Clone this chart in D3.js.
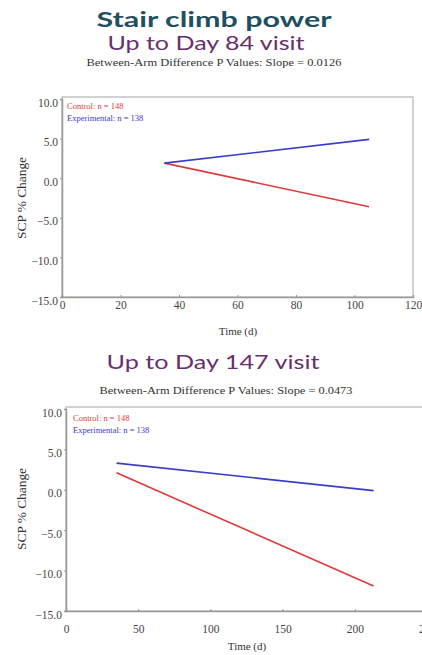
<!DOCTYPE html>
<html>
<head>
<meta charset="utf-8">
<script src="https://cdn.jsdelivr.net/npm/d3@7"></script>
<style>
  body { margin: 0; background: #fff; }
  svg { display: block; }
</style>
</head>
<body>
<svg></svg>
<script>
// chart values
const mainTitle = "Stair climb power";
const panelTitles = ["Up to Day 84 visit", "Up to Day 147 visit"];
const pValues = ["0.0126", "0.0473"];
const armNames = ["Control", "Experimental"];
const armN = [148, 138];
const yTicks = [10, 5, 0, -5, -10, -15];
const xTicksTop = [0, 20, 40, 60, 80, 100, 120];
const xTicksBottom = [0, 50, 100, 150, 200, 250];
const controlTop = [{ t: 35, v: 1.9 }, { t: 105, v: -3.6 }];
const experimentalTop = [{ t: 35, v: 1.9 }, { t: 105, v: 4.9 }];
const controlBottom = [{ t: 35, v: 2.1 }, { t: 213, v: -11.9 }];
const experimentalBottom = [{ t: 35, v: 3.3 }, { t: 213, v: -0.1 }];

const width = 422, height = 655;
const colors = { Control: "#e0393c", Experimental: "#3b3bcc" };

const svg = d3.select("svg").attr("width", width).attr("height", height);

svg.append("text")
  .attr("x", 214).attr("y", 27)
  .attr("text-anchor", "middle")
  .attr("textLength", 235).attr("lengthAdjust", "spacingAndGlyphs")
  .style("font", "bold 21px Lato, 'Open Sans', sans-serif")
  .style("fill", "#1f4f60")
  .text(mainTitle);

// layout of each panel (pixel boxes)
const panels = [
  {
    title: panelTitles[0], p: pValues[0], xTicks: xTicksTop, xMax: 120,
    control: controlTop, experimental: experimentalTop,
    left: 62, right: 413, top: 97, y10: 99, bottom: 297,
    titleX: 206, titleY: 50, titleW: 197, subX: 214, subY: 66, subW: 255,
    legX: 67, legY: 109, labOff: 10, timeX: 238, timeY: 335, yTitleY: 198
  },
  {
    title: panelTitles[1], p: pValues[1], xTicks: xTicksBottom, xMax: 250,
    control: controlBottom, experimental: experimentalBottom,
    left: 66, right: 427, top: 407, y10: 409, bottom: 611,
    titleX: 213, titleY: 369, titleW: 213, subX: 226, subY: 394, subW: 253,
    legX: 73, legY: 421, labOff: 20, timeX: 247, timeY: 650, yTitleY: 509
  }
];

panels.forEach(function (P) {
  const x = d3.scaleLinear().domain([0, P.xMax]).range([P.left, P.right]);
  const y = d3.scaleLinear().domain([-15, 10]).range([P.bottom, P.y10]);

  svg.append("text")
    .attr("x", P.titleX).attr("y", P.titleY)
    .attr("text-anchor", "middle")
    .attr("textLength", P.titleW).attr("lengthAdjust", "spacingAndGlyphs")
    .style("font", "19px Lato, 'Open Sans', sans-serif")
    .style("fill", "#6a2f6e")
    .text(P.title);

  svg.append("text")
    .attr("x", P.subX).attr("y", P.subY)
    .attr("text-anchor", "middle")
    .attr("textLength", P.subW).attr("lengthAdjust", "spacingAndGlyphs")
    .style("font-family", "'Liberation Serif', serif")
    .style("font-size", "9.5px")
    .style("fill", "#333")
    .text("Between-Arm Difference P Values: Slope = " + P.p);

  // frame
  svg.append("rect")
    .attr("x", P.left).attr("y", P.top)
    .attr("width", P.right - P.left).attr("height", P.bottom - P.top)
    .attr("fill", "none").attr("stroke", "#c4c4c4").attr("stroke-width", 1.5);

  const yAxis = svg.append("g")
    .attr("transform", `translate(${P.left},0)`)
    .call(d3.axisLeft(y).tickValues(yTicks).tickFormat(d3.format(".1f")).tickSize(2).tickPadding(2));
  yAxis.select(".domain").attr("stroke", "#999").attr("stroke-width", 1.5);
  yAxis.selectAll(".tick line").attr("stroke", "#999");
  yAxis.selectAll(".tick text")
    .attr("dy", "0.62em")
    .style("font-family", "'Liberation Serif', serif").style("font-size", "11.5px")
    .style("fill", "#444");

  const xAxis = svg.append("g")
    .attr("transform", `translate(0,${P.bottom})`)
    .call(d3.axisBottom(x).tickValues(P.xTicks).tickSize(-2).tickPadding(P.labOff - 6));
  xAxis.select(".domain").attr("stroke", "#999").attr("stroke-width", 1.5);
  xAxis.selectAll(".tick line").attr("stroke", "#999");
  xAxis.selectAll(".tick text")
    .style("font-family", "'Liberation Serif', serif").style("font-size", "11.5px")
    .style("fill", "#444");

  svg.append("text")
    .attr("x", P.timeX).attr("y", P.timeY)
    .attr("text-anchor", "middle")
    .style("font-family", "'Liberation Serif', serif").style("font-size", "11px")
    .style("fill", "#333")
    .text("Time (d)");

  svg.append("text")
    .attr("transform", `translate(26,${P.yTitleY}) rotate(-90)`)
    .attr("text-anchor", "middle")
    .attr("textLength", 82).attr("lengthAdjust", "spacingAndGlyphs")
    .style("font-family", "'Liberation Serif', serif").style("font-size", "11.5px")
    .style("fill", "#333")
    .text("SCP % Change");

  // legend
  armNames.forEach(function (name, i) {
    svg.append("text")
      .attr("x", P.legX).attr("y", P.legY + i * 12)
      .style("font-family", "'Liberation Serif', serif").style("font-size", "8.5px")
      .style("fill", colors[name])
      .text(name + ": n = " + armN[i]);
  });

  const line = d3.line().x(d => x(d.t)).y(d => y(d.v));
  [["Control", P.control], ["Experimental", P.experimental]].forEach(function ([name, pts]) {
    svg.append("path")
      .datum(pts)
      .attr("d", line)
      .attr("fill", "none")
      .attr("stroke", colors[name])
      .attr("stroke-width", 1.6);
  });
});
</script>
</body>
</html>
